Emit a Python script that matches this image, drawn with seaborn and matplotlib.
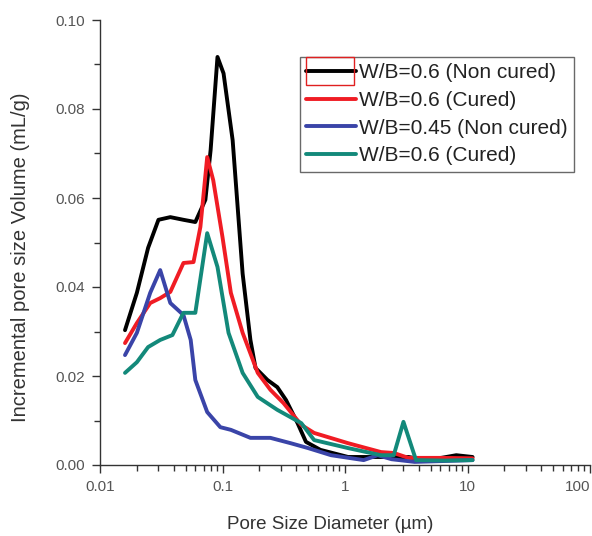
import matplotlib
matplotlib.use('Agg')
import matplotlib.pyplot as plt
import matplotlib.ticker as mticker
from matplotlib.patches import Rectangle
import numpy as np
import pandas as pd
import seaborn as sns

# Values (pore size in um, volume in mL/g)
labels = ['W/B=0.6 (Non cured)', 'W/B=0.6 (Cured)',
          'W/B=0.45 (Non cured)', 'W/B=0.6 (Cured)']
colors = ['#000000', '#f01c24', '#3a44a8', '#13897a']

x_black = [0.016, 0.020, 0.0247, 0.030, 0.0375, 0.048, 0.060, 0.0725, 0.080,
           0.091, 0.102, 0.121, 0.146, 0.169, 0.186, 0.233, 0.28, 0.33, 0.41,
           0.48, 0.63, 1.06, 1.97, 3.3, 4.2, 6.1, 8.1, 11]
y_black = [0.0303, 0.0387, 0.0488, 0.0551, 0.0557, 0.0551, 0.0546, 0.0596,
           0.0708, 0.0917, 0.088, 0.073, 0.043, 0.0281, 0.0218, 0.0191, 0.0175,
           0.0146, 0.0094, 0.0052, 0.0034, 0.0018, 0.0018, 0.0018, 0.0013,
           0.0016, 0.0022, 0.0018]

x_red = [0.016, 0.020, 0.0257, 0.031, 0.0375, 0.048, 0.058, 0.066, 0.075,
         0.084, 0.10, 0.117, 0.146, 0.194, 0.246, 0.315, 0.44, 0.56, 1.06,
         1.97, 2.5, 3.3, 6.1, 11]
y_red = [0.0274, 0.0319, 0.0364, 0.0375, 0.0389, 0.0454, 0.0456, 0.0535,
         0.0692, 0.064, 0.0512, 0.0387, 0.0297, 0.0207, 0.0169, 0.0139, 0.0090,
         0.0072, 0.0049, 0.0029, 0.0027, 0.0016, 0.0016, 0.0015]

x_blue = [0.016, 0.020, 0.0257, 0.031, 0.0375, 0.048, 0.055, 0.060, 0.075,
          0.096, 0.117, 0.169, 0.246, 0.36, 0.5, 0.77, 1.42, 1.85, 2.4, 3.7,
          6.5, 11]
y_blue = [0.0247, 0.0297, 0.0387, 0.0438, 0.0364, 0.0337, 0.0281, 0.0191,
          0.0119, 0.0085, 0.0079, 0.0061, 0.0061, 0.0049, 0.0038, 0.0022,
          0.0011, 0.0022, 0.0013, 0.0007, 0.0009, 0.0011]

x_teal = [0.016, 0.020, 0.0247, 0.031, 0.039, 0.048, 0.060, 0.075, 0.091,
          0.112, 0.146, 0.194, 0.28, 0.44, 0.56, 1.06, 1.97, 2.5, 3.0, 3.8,
          6.5, 11]
y_teal = [0.0207, 0.0231, 0.0265, 0.0281, 0.0292, 0.0342, 0.0342, 0.0521,
          0.0445, 0.0297, 0.0207, 0.0153, 0.0124, 0.0094, 0.0056, 0.0038,
          0.0022, 0.0022, 0.0097, 0.0011, 0.0010, 0.0011]

xs = [x_black, x_red, x_blue, x_teal]
ys = [y_black, y_red, y_blue, y_teal]

x_ticks = [0.01, 0.1, 1, 10, 100]
x_ticklabels = ['0.01', '0.1', '1', '10', '100']

sns.set_style('ticks')
plt.rcParams['font.family'] = ['Liberation Sans', 'DejaVu Sans']

fig = plt.figure(figsize=(5.92, 5.36), dpi=100)
ax = fig.add_axes([100 / 592, 71 / 536, 490 / 592, 445 / 536])

for xv, yv, lab, col in zip(xs, ys, labels, colors):
    df = pd.DataFrame({'x': xv, 'y': yv})
    sns.lineplot(data=df, x='x', y='y', ax=ax, color=col, lw=2.8,
                 label=lab, estimator=None, sort=False)

ax.set_xscale('log')
ax.set_xlim(0.01, 100)
ax.set_ylim(0, 0.10)
ax.set_xticks(x_ticks)
ax.set_xticklabels(x_ticklabels)
ax.xaxis.set_minor_locator(mticker.LogLocator(base=10, subs=np.arange(2, 10)))
ax.xaxis.set_minor_formatter(mticker.NullFormatter())
ax.yaxis.set_major_locator(mticker.MultipleLocator(0.02))
ax.yaxis.set_minor_locator(mticker.MultipleLocator(0.01))
ax.yaxis.set_major_formatter(mticker.FormatStrFormatter('%.2f'))

sns.despine(ax=ax)
for s in ['left', 'bottom']:
    ax.spines[s].set_color('#333333')
    ax.spines[s].set_linewidth(1.0)
ax.tick_params(which='major', length=6, width=1.0, color='#333333',
               labelsize=11, labelcolor='#555555', pad=5)
ax.tick_params(which='minor', length=4, width=1.0, color='#333333')
# last label sits at the figure edge; keep it inside
ax.get_xticklabels()[-1].set_horizontalalignment('right')

ax.set_xlabel('Pore Size Diameter (\u00b5m)', fontsize=13.5, color='#333333')
ax.xaxis.set_label_coords(0.47, -0.115)
ax.set_ylabel('Incremental pore size Volume (mL/g)', fontsize=14.5,
              color='#333333')
ax.yaxis.set_label_coords(-0.142, 0.467)

leg = ax.legend(loc='upper left', bbox_to_anchor=(0.408, 0.917),
                borderaxespad=0, fontsize=15, frameon=True, fancybox=False,
                handlelength=2.4, handletextpad=0.15, labelspacing=0.42,
                borderpad=0.3)
leg.get_frame().set_edgecolor('#444444')
leg.get_frame().set_linewidth(1.0)
for t in leg.get_texts():
    t.set_color('#222222')

# red highlight box around the first legend handle, as in the source image
fig.patches.append(Rectangle((306 / 592, 1 - 85 / 536), 48 / 592, 28 / 536,
                             transform=fig.transFigure, fill=False,
                             edgecolor='#e02020', lw=1.0, zorder=10))

fig.savefig('out.png', dpi=100)
